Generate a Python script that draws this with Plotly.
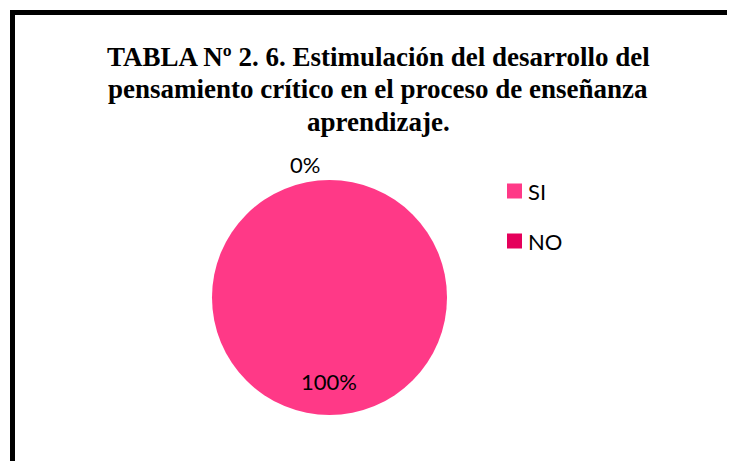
import plotly.graph_objects as go

# ---- data ----
categories = ["SI", "NO"]
values = [100, 0]
colors = ["#FF3987", "#E5005B"]
title_lines = [
    "TABLA Nº 2. 6. Estimulación del desarrollo del",
    "pensamiento crítico en el proceso de enseñanza",
    "aprendizaje.",
]

W, H = 735, 461
OFF = 8  # page body margin
total = sum(values)
pcts = [f"{v / total * 100:.0f}%" for v in values]

def px(x):
    return (x - OFF) / W

def py(y):
    return 1 - (y - OFF) / H

# pie geometry (pixels in the screenshot)
cx, cy, r = 329.5, 297.5, 117.5

fig = go.Figure()
fig.add_trace(go.Pie(
    labels=categories,
    values=values,
    marker=dict(colors=colors, line=dict(width=0)),
    sort=False,
    direction="clockwise",
    rotation=0,
    textinfo="none",
    showlegend=False,
    domain=dict(x=[px(cx - r), px(cx + r)], y=[py(cy + r), py(cy - r)]),
))

annotations = []
# title lines
for i, line in enumerate(title_lines):
    annotations.append(dict(
        text="<b>" + line + "</b>",
        x=px(378), y=py(57 + i * 32.5), xref="paper", yref="paper",
        xanchor="center", yanchor="middle", showarrow=False, align="center",
        font=dict(family="Liberation Serif", size=27, color="#000000"),
    ))
# percentage labels
label_pos = [(329, 381), (305, 164)]
for t, (lx, ly) in zip(pcts, label_pos):
    annotations.append(dict(
        text=t, x=px(lx), y=py(ly), xref="paper", yref="paper",
        xanchor="center", yanchor="middle", showarrow=False,
        font=dict(family="Lato", size=22, color="#000000"),
    ))

shapes = []
# manual legend
for i, (cat, col) in enumerate(zip(categories, colors)):
    yc = 191 + i * 50
    shapes.append(dict(
        type="rect", xref="paper", yref="paper",
        x0=px(507), x1=px(522), y0=py(yc + 7.5), y1=py(yc - 7.5),
        fillcolor=col, line=dict(width=0),
    ))
    annotations.append(dict(
        text=cat, x=px(526), y=py(yc), xref="paper", yref="paper",
        xanchor="left", yanchor="middle", showarrow=False,
        font=dict(family="Lato", size=22, color="#000000"),
    ))

# outer frame
shapes.append(dict(
    type="rect", xref="paper", yref="paper",
    x0=px(12.5), y0=py(490), x1=px(770), y1=py(12.5),
    line=dict(color="#000000", width=5), fillcolor="rgba(0,0,0,0)",
))

fig.update_layout(
    width=W, height=H,
    margin=dict(l=0, r=0, t=0, b=0),
    paper_bgcolor="#FFFFFF",
    plot_bgcolor="#FFFFFF",
    annotations=annotations,
    shapes=shapes,
    showlegend=False,
)

fig.write_html("out.html")
